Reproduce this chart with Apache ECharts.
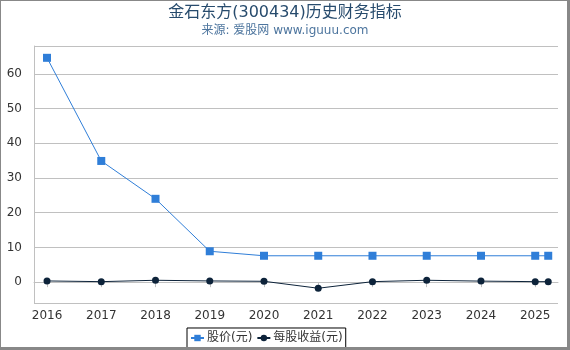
<!DOCTYPE html>
<html>
<head>
<meta charset="utf-8">
<script src="https://cdn.jsdelivr.net/npm/echarts@6/dist/echarts.min.js"></script>
<style>
  html, body { margin: 0; padding: 0; background: #fff; }
  #frame {
    width: 570px; height: 350px; box-sizing: border-box;
    border-top: 1px solid #888; border-left: 1px solid #888;
    border-right: 3px solid #888; border-bottom: 3px solid #888;
    position: relative; overflow: hidden;
  }
  #chart { position: absolute; left: -1px; top: -1px; width: 570px; height: 350px; }
</style>
</head>
<body>
<div id="frame"><div id="chart"></div></div>
<script>
// x positions (years); last point is early 2025
var xs = [2016, 2017, 2018, 2019, 2020, 2021, 2022, 2023, 2024, 2025, 2025.24];
var price = [64.6, 34.9, 24.0, 8.9, 7.6, 7.6, 7.6, 7.6, 7.6, 7.6, 7.6];
var eps = [0.35, 0.15, 0.55, 0.35, 0.25, -1.75, 0.15, 0.55, 0.3, 0.15, 0.15];
var yearTicks = [2016, 2017, 2018, 2019, 2020, 2021, 2022, 2023, 2024, 2025];

function pairs(vals) {
  return xs.map(function (x, i) { return [x, vals[i]]; });
}

var chart = echarts.init(document.getElementById('chart'));
var font = 'DejaVu Sans, Noto Sans CJK SC, sans-serif';

var option = {
  animation: false,
  textStyle: { fontFamily: font },
  title: {
    text: '金石东方(300434)历史财务指标',
    subtext: '来源: 爱股网 www.iguuu.com',
    left: 'center',
    top: 0,
    itemGap: 4,
    textStyle: { fontSize: 16, fontWeight: 'normal', color: '#274b6d', fontFamily: font },
    subtextStyle: { fontSize: 12, color: '#4d759e', fontFamily: font }
  },
  legend: {
    bottom: 2,
    left: 187,
    borderColor: '#000',
    borderWidth: 1,
    borderRadius: 0,
    padding: [4, 3],
    itemGap: 4,
    itemWidth: 13,
    itemHeight: 8,
    textStyle: { fontSize: 12, color: '#333', fontFamily: font, padding: [0, 0, 0, -2] },
    data: ['股价(元)', '每股收益(元)']
  },
  grid: { left: 34, right: 12, top: 46, bottom: 47 },
  xAxis: {
    type: 'value',
    min: 2015.76,
    max: 2025.42,
    splitLine: { show: false },
    axisLine: { show: true, lineStyle: { color: '#c0c0c0' } },
    axisTick: { show: true, customValues: yearTicks, length: 5, lineStyle: { color: '#c0c0c0' } },
    axisLabel: {
      customValues: yearTicks,
      color: '#333', fontSize: 12, margin: 7,
      formatter: function (v) { return String(v); }
    }
  },
  yAxis: {
    type: 'value',
    min: -6,
    max: 68,
    axisLine: { show: true, lineStyle: { color: '#c0c0c0' } },
    axisTick: { show: false },
    splitLine: { lineStyle: { color: '#c0c0c0' } },
    axisLabel: {
      customValues: [0, 10, 20, 30, 40, 50, 60],
      color: '#333', fontSize: 12, margin: 12
    }
  },
  series: [
    {
      name: '股价(元)',
      type: 'line',
      data: pairs(price),
      symbol: 'rect',
      symbolSize: 8,
      itemStyle: { color: '#2f7ed8' },
      lineStyle: { width: 1, color: '#2f7ed8' }
    },
    {
      name: '每股收益(元)',
      type: 'line',
      data: pairs(eps),
      symbol: 'circle',
      symbolSize: 7,
      itemStyle: { color: '#0d233a' },
      lineStyle: { width: 1, color: '#0d233a' }
    }
  ]
};
chart.setOption(option);
</script>
</body>
</html>
